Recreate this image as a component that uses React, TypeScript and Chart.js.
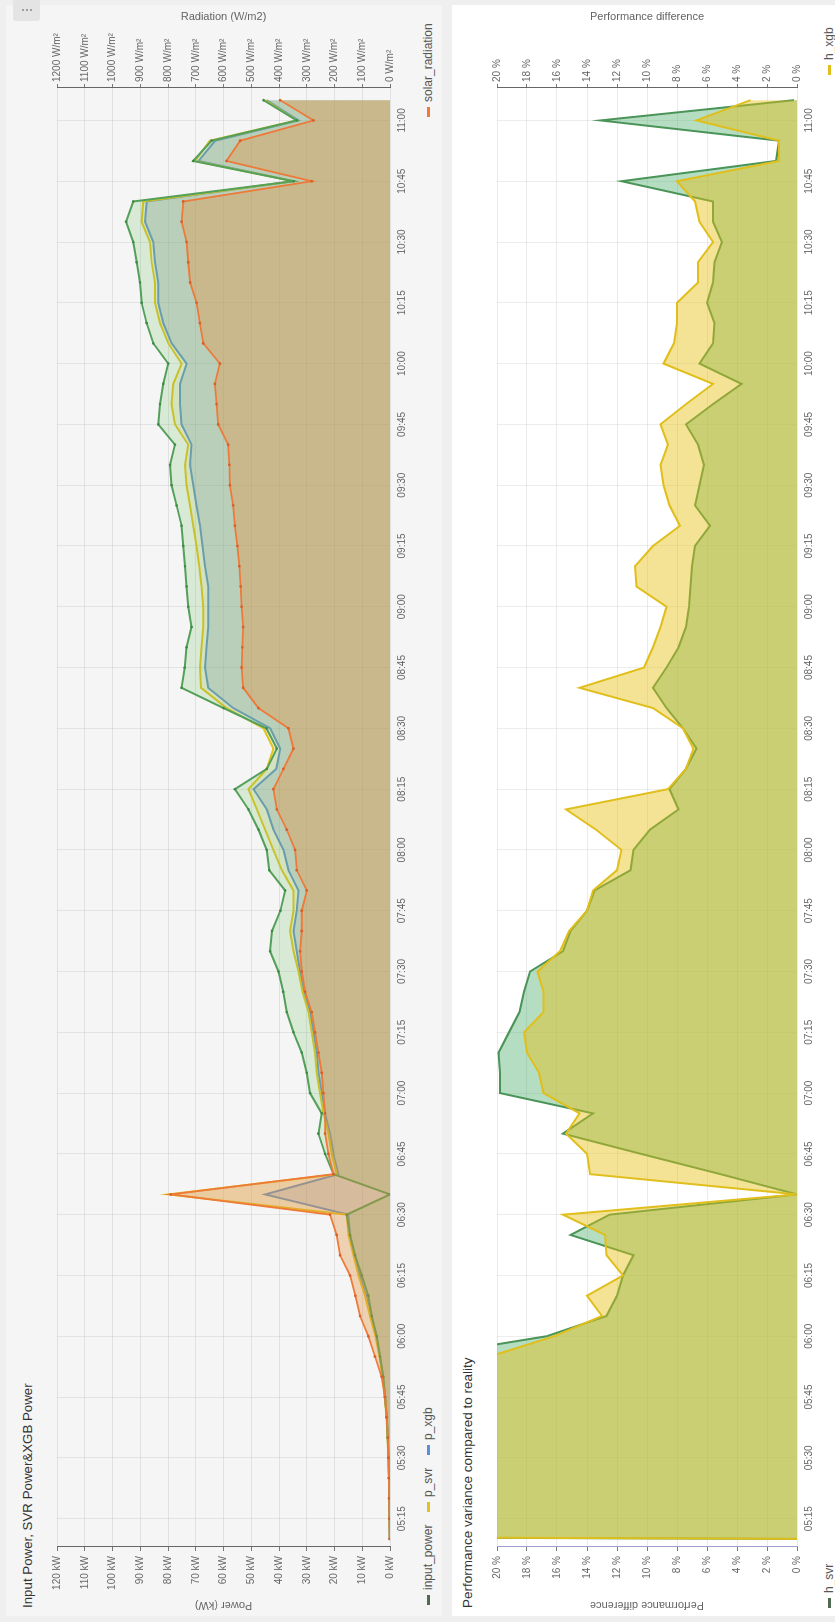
import React, { useEffect, useRef } from 'react';
import { Chart, registerables } from 'chart.js';

Chart.register(...registerables);

const FONT = "'Liberation Sans', Arial, Helvetica, sans-serif";
Chart.defaults.font.family = FONT;

// ---- categories (5-minute samples) ----
const times = [
  '05:10', '05:15', '05:20', '05:25', '05:30', '05:35', '05:40', '05:45', '05:50', '05:55',
  '06:00', '06:05', '06:10', '06:15', '06:20', '06:25', '06:30', '06:35', '06:40', '06:45',
  '06:50', '06:55', '07:00', '07:05', '07:10', '07:15', '07:20', '07:25', '07:30', '07:35',
  '07:40', '07:45', '07:50', '07:55', '08:00', '08:05', '08:10', '08:15', '08:20', '08:25',
  '08:30', '08:35', '08:40', '08:45', '08:50', '08:55', '09:00', '09:05', '09:10', '09:15',
  '09:20', '09:25', '09:30', '09:35', '09:40', '09:45', '09:50', '09:55', '10:00', '10:05',
  '10:10', '10:15', '10:20', '10:25', '10:30', '10:35', '10:40', '10:45', '10:50', '10:55',
  '11:00', '11:05',
];

const xTickLabels = [
  '05:15', '05:30', '05:45', '06:00', '06:15', '06:30', '06:45', '07:00', '07:15', '07:30',
  '07:45', '08:00', '08:15', '08:30', '08:45', '09:00', '09:15', '09:30', '09:45', '10:00',
  '10:15', '10:30', '10:45', '11:00',
];
const xAxisStart = '05:08';
const xAxisEnd = '11:08';

// ---- top chart series ----
const inputPower = [
  0.1, 0.2, 0.3, 0.4, 0.5, 0.8, 1.2, 1.8, 2.4, 3.6,
  4.8, 6.6, 7.8, 10.2, 12.6, 14.4, 15.6, 0, 20.4, 23.4,
  25.8, 24.6, 28.8, 30, 31.8, 34.8, 37.2, 38.5, 40.2, 43.2,
  42.5, 39.5, 37.8, 43.5, 44.4, 47.4, 51, 55.9, 44.4, 40.8,
  44.5, 60, 75.1, 74, 73.3, 71.5, 72.7, 73.3, 73.9, 74.5,
  75.1, 76.9, 78.7, 79.3, 77.5, 83.5, 82.9, 81.7, 79.9, 85.3,
  87.7, 89.5, 90.1, 91.3, 92.5, 95.1, 92.5, 34.8, 70.9, 64.3,
  33.6, 45.6,
];
const pSvr = [
  0.1, 0.2, 0.3, 0.4, 0.6, 0.9, 1.3, 1.9, 2.6, 3.8,
  5.2, 7.2, 9, 11.4, 13.2, 15, 15.6, 80, 19.2, 21,
  22.2, 24, 25.2, 26.4, 27, 28.2, 29.4, 31.5, 33, 34.8,
  36, 34.8, 34.8, 39, 42, 45, 48, 51, 44.4, 42,
  45.6, 58.9, 68.1, 68.5, 67.9, 67.3, 67.3, 67.9, 68.7, 69.7,
  70.9, 72.1, 73.3, 73.9, 72.7, 77.5, 78.7, 78.1, 75.1, 79.9,
  82.9, 84.7, 84.7, 85.9, 86.5, 89.5, 88.9, 34.8, 70.3, 64.9,
  33.6, 45,
];
const pXgb = [
  0.1, 0.2, 0.3, 0.4, 0.5, 0.8, 1.2, 1.7, 2.5, 3.6,
  5, 6.9, 8.6, 11, 12.8, 14.4, 15, 45, 18.6, 20.4,
  21.6, 23.4, 24.6, 25.8, 26.4, 27.6, 28.8, 31, 32.4, 33.6,
  34.8, 33.6, 33, 36.6, 38.4, 42, 44.4, 49.2, 41, 39.6,
  43.2, 56.5, 65.5, 66.7, 66.1, 65.5, 65.5, 65.5, 66.7, 67.6,
  68.5, 69.7, 70.9, 72.1, 71.5, 75.1, 75.7, 75.7, 73.3, 78.7,
  81.7, 83.5, 83.5, 84.7, 85.3, 88.3, 87.7, 34.8, 69, 63,
  33, 44.4,
];
const solarRadiation = [
  1, 2, 3, 4, 6, 8, 12, 18, 30, 54,
  78, 108, 125, 144, 180, 192, 216, 790, 204, 222,
  234, 234, 240, 246, 258, 270, 282, 306, 318, 324,
  318, 318, 300, 336, 342, 372, 408, 420, 384, 348,
  366, 474, 529, 535, 532, 529, 535, 538, 543, 550,
  559, 565, 577, 579, 583, 619, 625, 631, 613, 673,
  685, 697, 720, 727, 733, 751, 745, 282, 589, 540,
  276, 396,
];

// ---- bottom chart series (%) ----
const hSvr = [
  0, 400, 250, 150, 100, 75, 55, 40, 32, 25,
  16.7, 12.7, 12, 11.6, 10.9, 15.1, 12.5, 0, 5.1, 10.4,
  15.6, 13.6, 19.8, 19.8, 19.9, 19.2, 18.5, 18.2, 17.8, 15.6,
  15.1, 14, 13.5, 11.1, 10.9, 9.8, 7.9, 8.5, 7.4, 6.7,
  7.6, 8.7, 9.6, 8.7, 7.9, 7.4, 7.2, 7.1, 7, 6.8,
  5.8, 6.8, 6.5, 6.2, 6.6, 7.4, 5.6, 3.7, 6.5, 5.6,
  5.5, 6, 5.6, 5.5, 5, 5.6, 5.6, 11.7, 1.4, 1.2,
  13.1, 0.2,
];
const hXgb = [
  0, 350, 220, 130, 90, 65, 48, 35, 28, 20.5,
  16.2, 13, 14, 11.6, 12.7, 12.8, 15.6, 0, 13.8, 14,
  15.4, 14.5, 16.9, 17.2, 18, 18.2, 16.9, 16.9, 17.3, 15.8,
  15.2, 14, 13.6, 12, 11.7, 13.4, 15.4, 8.6, 7.4, 6.9,
  7.6, 9.6, 14.5, 10.2, 9.6, 9.1, 8.7, 10.7, 10.8, 9.6,
  7.8, 8.5, 8.9, 9.1, 8.6, 9.1, 7.4, 5.6, 8.9, 8.2,
  8, 8, 6.6, 6.6, 5.6, 6.5, 6.8, 8, 1.2, 1.2,
  6.7, 3.1,
];

const toMin = (t: string) => {
  const [h, m] = t.split(':').map(Number);
  return h * 60 + m;
};
const series = (vals: number[]) => vals.map((v, i) => ({ x: toMin(times[i]), y: v }));

function timeAxis(height: number) {
  return {
    type: 'linear' as const,
    min: toMin(xAxisStart),
    max: toMin(xAxisEnd),
    afterBuildTicks: (s: any) => {
      s.ticks = xTickLabels.map((l) => ({ value: toMin(l) }));
    },
    afterFit: (s: any) => {
      s.height = height;
    },
    ticks: {
      autoSkip: false,
      maxRotation: 0,
      padding: 6,
      color: '#666',
      font: { size: 10 },
      callback: (_v: any, i: number) => xTickLabels[i],
    },
    grid: { color: 'rgba(0,0,0,0.07)', drawTicks: false },
    border: { display: false },
  };
}

function valueAxis(o: {
  position: 'left' | 'right';
  max: number;
  step: number;
  unit: string;
  title: string;
  width: number;
  onArea: boolean;
  borderColor: string;
}) {
  return {
    type: 'linear' as const,
    position: o.position,
    min: 0,
    max: o.max,
    afterFit: (s: any) => {
      s.width = o.width;
    },
    ticks: {
      stepSize: o.step,
      color: '#666',
      font: { size: 10 },
      padding: o.position === 'left' ? 5 : 2,
      callback: (v: any) => `${v} ${o.unit}`,
    },
    grid: {
      drawOnChartArea: o.onArea,
      color: 'rgba(0,0,0,0.08)',
      tickLength: 4,
      tickColor: '#777',
    },
    border: { display: true, color: o.borderColor, width: 1 },
    title: {
      display: true,
      text: o.title,
      color: '#666',
      font: { size: 11 },
      padding: { top: 10, bottom: 0 },
    },
  };
}

function useChart(ref: React.RefObject<HTMLCanvasElement | null>, make: () => any) {
  useEffect(() => {
    if (!ref.current) return;
    const chart = new Chart(ref.current, make());
    return () => chart.destroy();
  }, []);
}

function PowerChart() {
  const ref = useRef<HTMLCanvasElement | null>(null);
  useChart(ref, () => ({
    type: 'line',
    data: {
      datasets: [
        {
          label: 'input_power',
          data: series(inputPower),
          yAxisID: 'y',
          borderColor: '#54a05a',
          backgroundColor: 'rgba(100,190,90,0.2)',
          fill: 'origin',
          borderWidth: 2,
          pointRadius: 1.3,
          pointBorderWidth: 0,
          pointBackgroundColor: '#3f8a45',
          order: 1,
        },
        {
          label: 'p_svr',
          data: series(pSvr),
          yAxisID: 'y',
          borderColor: '#e2c21f',
          backgroundColor: 'rgba(210,190,60,0.15)',
          fill: 'origin',
          borderWidth: 2,
          pointRadius: 0,
          order: 2,
        },
        {
          label: 'p_xgb',
          data: series(pXgb),
          yAxisID: 'y',
          borderColor: '#5b8fd9',
          backgroundColor: 'rgba(70,110,200,0.22)',
          fill: 'origin',
          borderWidth: 2,
          pointRadius: 0,
          order: 3,
        },
        {
          label: 'solar_radiation',
          data: series(solarRadiation),
          yAxisID: 'y1',
          borderColor: '#ee7a3a',
          backgroundColor: 'rgba(225,140,55,0.35)',
          fill: 'origin',
          borderWidth: 1.8,
          pointRadius: 1.4,
          pointBorderWidth: 0,
          pointBackgroundColor: '#d8602a',
          order: 0,
        },
      ],
    },
    options: {
      responsive: false,
      animation: false,
      devicePixelRatio: 1,
      events: [],
      layout: { padding: { top: 17, left: 0, right: 0, bottom: 0 } },
      plugins: { legend: { display: false }, tooltip: { enabled: false } },
      elements: { line: { tension: 0 } },
      scales: {
        x: timeAxis(25),
        y: valueAxis({
          position: 'left', max: 120, step: 10, unit: 'kW', title: 'Power (kW)',
          width: 75, onArea: true, borderColor: '#666',
        }),
        y1: valueAxis({
          position: 'right', max: 1200, step: 100, unit: 'W/m²', title: 'Radiation (W/m2)',
          width: 88, onArea: false, borderColor: '#666',
        }),
      },
    },
  }));
  return <canvas ref={ref} width={1622} height={375} style={{ position: 'absolute', left: 0, top: 40 }} />;
}

function VarianceChart() {
  const ref = useRef<HTMLCanvasElement | null>(null);
  useChart(ref, () => ({
    type: 'line',
    data: {
      datasets: [
        {
          label: 'h_svr',
          data: series(hSvr),
          yAxisID: 'y',
          borderColor: '#4a9458',
          backgroundColor: 'rgba(70,170,100,0.4)',
          fill: 'origin',
          borderWidth: 2,
          pointRadius: 0,
          order: 1,
        },
        {
          label: 'h_xgb',
          data: series(hXgb),
          yAxisID: 'y1',
          borderColor: '#e0bf1c',
          backgroundColor: 'rgba(230,190,20,0.45)',
          fill: 'origin',
          borderWidth: 2,
          pointRadius: 0,
          order: 0,
        },
      ],
    },
    options: {
      responsive: false,
      animation: false,
      devicePixelRatio: 1,
      events: [],
      layout: { padding: { top: 17, left: 0, right: 0, bottom: 0 } },
      plugins: { legend: { display: false }, tooltip: { enabled: false } },
      elements: { line: { tension: 0 } },
      scales: {
        x: timeAxis(23),
        y: valueAxis({
          position: 'left', max: 20, step: 2, unit: '%', title: 'Performance difference',
          width: 75, onArea: true, borderColor: '#a0a0d0',
        }),
        y1: valueAxis({
          position: 'right', max: 20, step: 2, unit: '%', title: 'Performance difference',
          width: 88, onArea: false, borderColor: '#666',
        }),
      },
    },
  }));
  return <canvas ref={ref} width={1622} height={340} style={{ position: 'absolute', left: 0, top: 480 }} />;
}

function LegendItem({ left, top, color, text }: { left: number; top: number; color: string; text: string }) {
  return (
    <div
      style={{
        position: 'absolute', left, top, height: 14, display: 'flex', alignItems: 'center',
        fontSize: 12, color: '#555', whiteSpace: 'nowrap',
      }}
    >
      <span style={{ display: 'inline-block', width: 10, height: 3, background: color, marginRight: 5 }} />
      <span>{text}</span>
    </div>
  );
}

export default function App() {
  return (
    <div
      style={{
        position: 'fixed', left: 0, top: 0, width: 835, height: 1622, overflow: 'hidden',
        background: '#efefef',
      }}
    >
      <div
        style={{
          position: 'absolute', left: 0, top: 0, width: 1622, height: 835,
          transformOrigin: '0 0', transform: 'translateY(1622px) rotate(-90deg)',
          fontFamily: FONT,
        }}
      >
        {/* panels */}
        <div style={{ position: 'absolute', left: 6, top: 6, width: 1611, height: 436, background: '#f5f5f5' }} />
        <div style={{ position: 'absolute', left: 6, top: 452, width: 1611, height: 383, background: '#ffffff' }} />

        {/* top panel */}
        <div style={{ position: 'absolute', left: 14, top: 20, fontSize: 13.3, color: '#333', whiteSpace: 'nowrap' }}>
          Input Power, SVR Power&amp;XGB Power
        </div>
        <div
          style={{
            position: 'absolute', left: 1601, top: 13, width: 22, height: 27, background: '#e4e4e4',
            borderRadius: 3, display: 'flex', flexDirection: 'column', alignItems: 'center',
            justifyContent: 'center', gap: 2,
          }}
        >
          <span style={{ width: 2, height: 2, borderRadius: 1, background: '#888' }} />
          <span style={{ width: 2, height: 2, borderRadius: 1, background: '#888' }} />
          <span style={{ width: 2, height: 2, borderRadius: 1, background: '#888' }} />
        </div>
        <PowerChart />
        <LegendItem left={17} top={421} color="#4f6b52" text="input_power" />
        <LegendItem left={110} top={421} color="#e2c21f" text="p_svr" />
        <LegendItem left={167} top={421} color="#5b8fd9" text="p_xgb" />
        <LegendItem left={1505} top={421} color="#ee7a3a" text="solar_radiation" />

        {/* bottom panel */}
        <div style={{ position: 'absolute', left: 14, top: 460, fontSize: 13.5, color: '#333', whiteSpace: 'nowrap' }}>
          Performance variance compared to reality
        </div>
        <VarianceChart />
        <LegendItem left={14} top={822} color="#4f6b52" text="h_svr" />
        <LegendItem left={1547} top={822} color="#e0bf1c" text="h_xgb" />
      </div>
    </div>
  );
}
